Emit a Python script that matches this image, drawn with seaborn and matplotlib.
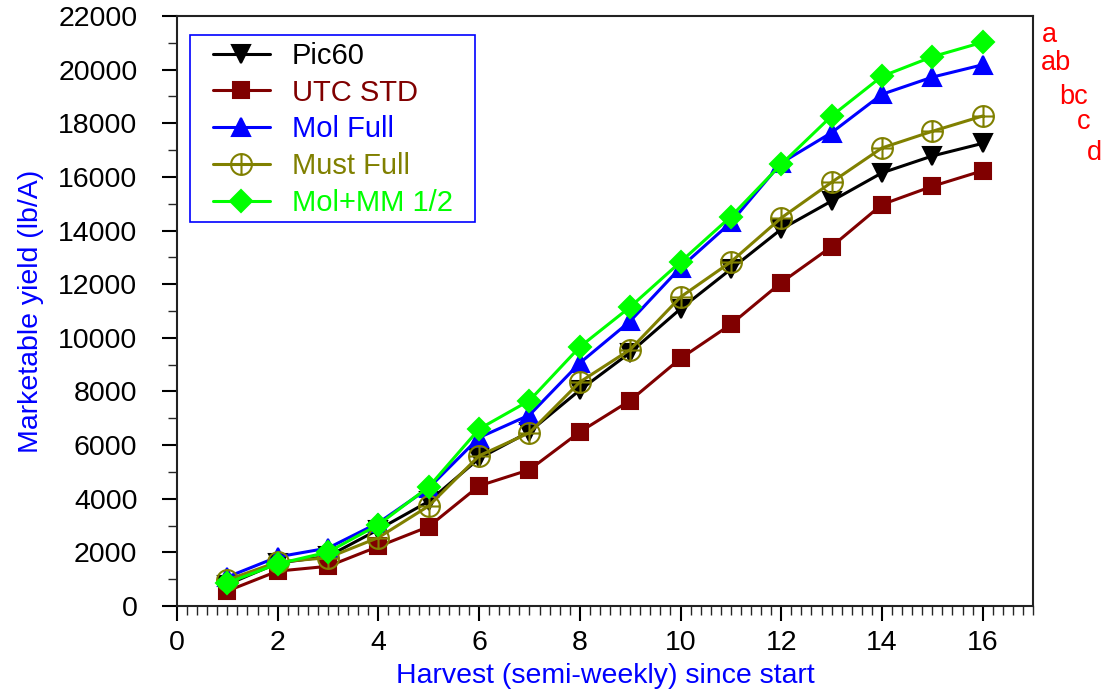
import numpy as np
import pandas as pd
import matplotlib
matplotlib.use("Agg")
import matplotlib.pyplot as plt
import seaborn as sns
from matplotlib.path import Path
from matplotlib.patches import Rectangle
from matplotlib.ticker import MultipleLocator

harvest = list(range(1, 17))
pic60 = [800, 1600, 1850, 2850, 3900, 5500, 6500, 8050, 9450, 11080, 12560, 14050, 15100, 16150, 16780, 17250]
utc_std = [560, 1300, 1480, 2220, 2960, 4480, 5080, 6490, 7660, 9230, 10500, 12060, 13400, 14970, 15650, 16230]
mol_full = [1080, 1830, 2160, 3100, 4400, 6280, 7120, 9060, 10620, 12620, 14300, 16520, 17650, 19080, 19720, 20180]
must_full = [970, 1640, 1800, 2550, 3730, 5600, 6460, 8350, 9560, 11520, 12830, 14470, 15800, 17080, 17700, 18270]
mol_mm = [860, 1570, 2010, 3030, 4440, 6600, 7660, 9660, 11150, 12830, 14520, 16470, 18270, 19750, 20480, 21020]
series_names = ["Pic60", "UTC STD", "Mol Full", "Must Full", "Mol+MM 1/2"]
letters = ["a", "ab", "bc", "c", "d"]

sns.set_style("white")
plt.rcParams['font.family'] = ['Liberation Sans', 'DejaVu Sans']

# circle-with-plus marker
circ = Path.unit_circle()
plus = Path([(-1, 0), (1, 0), (0, -1), (0, 1)],
            [Path.MOVETO, Path.LINETO, Path.MOVETO, Path.LINETO])
oplus = Path.make_compound_path(circ, plus)

styles = [
    dict(color="black", marker="v", ms=13, mfc="black", mec="black"),
    dict(color="#800000", marker="s", ms=12, mfc="#800000", mec="#800000"),
    dict(color="blue", marker="^", ms=13, mfc="blue", mec="blue"),
    dict(color="#808000", marker=oplus, ms=15, mfc="none", mec="#808000"),
    dict(color="#00ff00", marker="D", ms=11, mfc="#00ff00", mec="#00ff00"),
]
values = [pic60, utc_std, mol_full, must_full, mol_mm]

fig = plt.figure(figsize=(11.06, 6.92), dpi=100)
ax = fig.add_axes([0.160, 0.1243, 0.774, 0.8526])

for name, vals, st in zip(series_names, values, styles):
    sns.lineplot(x=harvest, y=vals, ax=ax, color=st["color"], marker=st["marker"],
                 markersize=st["ms"], markerfacecolor=st["mfc"], markeredgecolor=st["mec"],
                 markeredgewidth=1.5, linewidth=2.2, label=name)

ax.set_xlim(0, 17.0)
ax.set_ylim(0, 22000)
ax.xaxis.set_major_locator(MultipleLocator(2))
ax.xaxis.set_minor_locator(MultipleLocator(0.2))
ax.yaxis.set_major_locator(MultipleLocator(2000))
ax.yaxis.set_minor_locator(MultipleLocator(1000))
ax.tick_params(axis="both", which="major", direction="out", length=10.5, width=1.5,
               labelsize=20.5, colors="black", left=True, bottom=True, top=False, right=False)
ax.tick_params(axis="both", which="minor", direction="out", length=6.5, width=1,
               left=True, bottom=True, top=False, right=False)
ax.tick_params(axis="y", which="major", pad=18)
ax.tick_params(axis="x", which="major", pad=7)
for s in ax.spines.values():
    s.set_color("#222222")
    s.set_linewidth(1.5)

ax.set_xlabel("Harvest (semi-weekly) since start", color="blue", fontsize=20.5, labelpad=4.5)
ax.set_ylabel("Marketable yield (lb/A)", color="blue", fontsize=20.5, labelpad=10)

handles, labels = ax.get_legend_handles_labels()
leg = ax.legend(handles, labels, loc="upper left", bbox_to_anchor=(0.042, 0.956),
                fontsize=21, frameon=False, handlelength=1.95, handletextpad=0.75,
                labelspacing=0.3, borderpad=0, borderaxespad=0)
for t, st in zip(leg.get_texts(), styles):
    t.set_color(st["color"])
box = Rectangle((0.0152, 0.6508), 0.348 - 0.0152, 0.9678 - 0.6508, transform=ax.transAxes,
                fill=False, edgecolor="blue", linewidth=1.2, zorder=5)
ax.add_patch(box)

letter_pos = [(1042, 35), (1041, 63), (1059, 97), (1077, 122), (1087, 153)]
for lab, (px, py) in zip(letters, letter_pos):
    fig.text(px / 1106, 1 - py / 692, lab, color="red", fontsize=19.5,
             ha="left", va="center")

fig.savefig("out.png", dpi=100)
